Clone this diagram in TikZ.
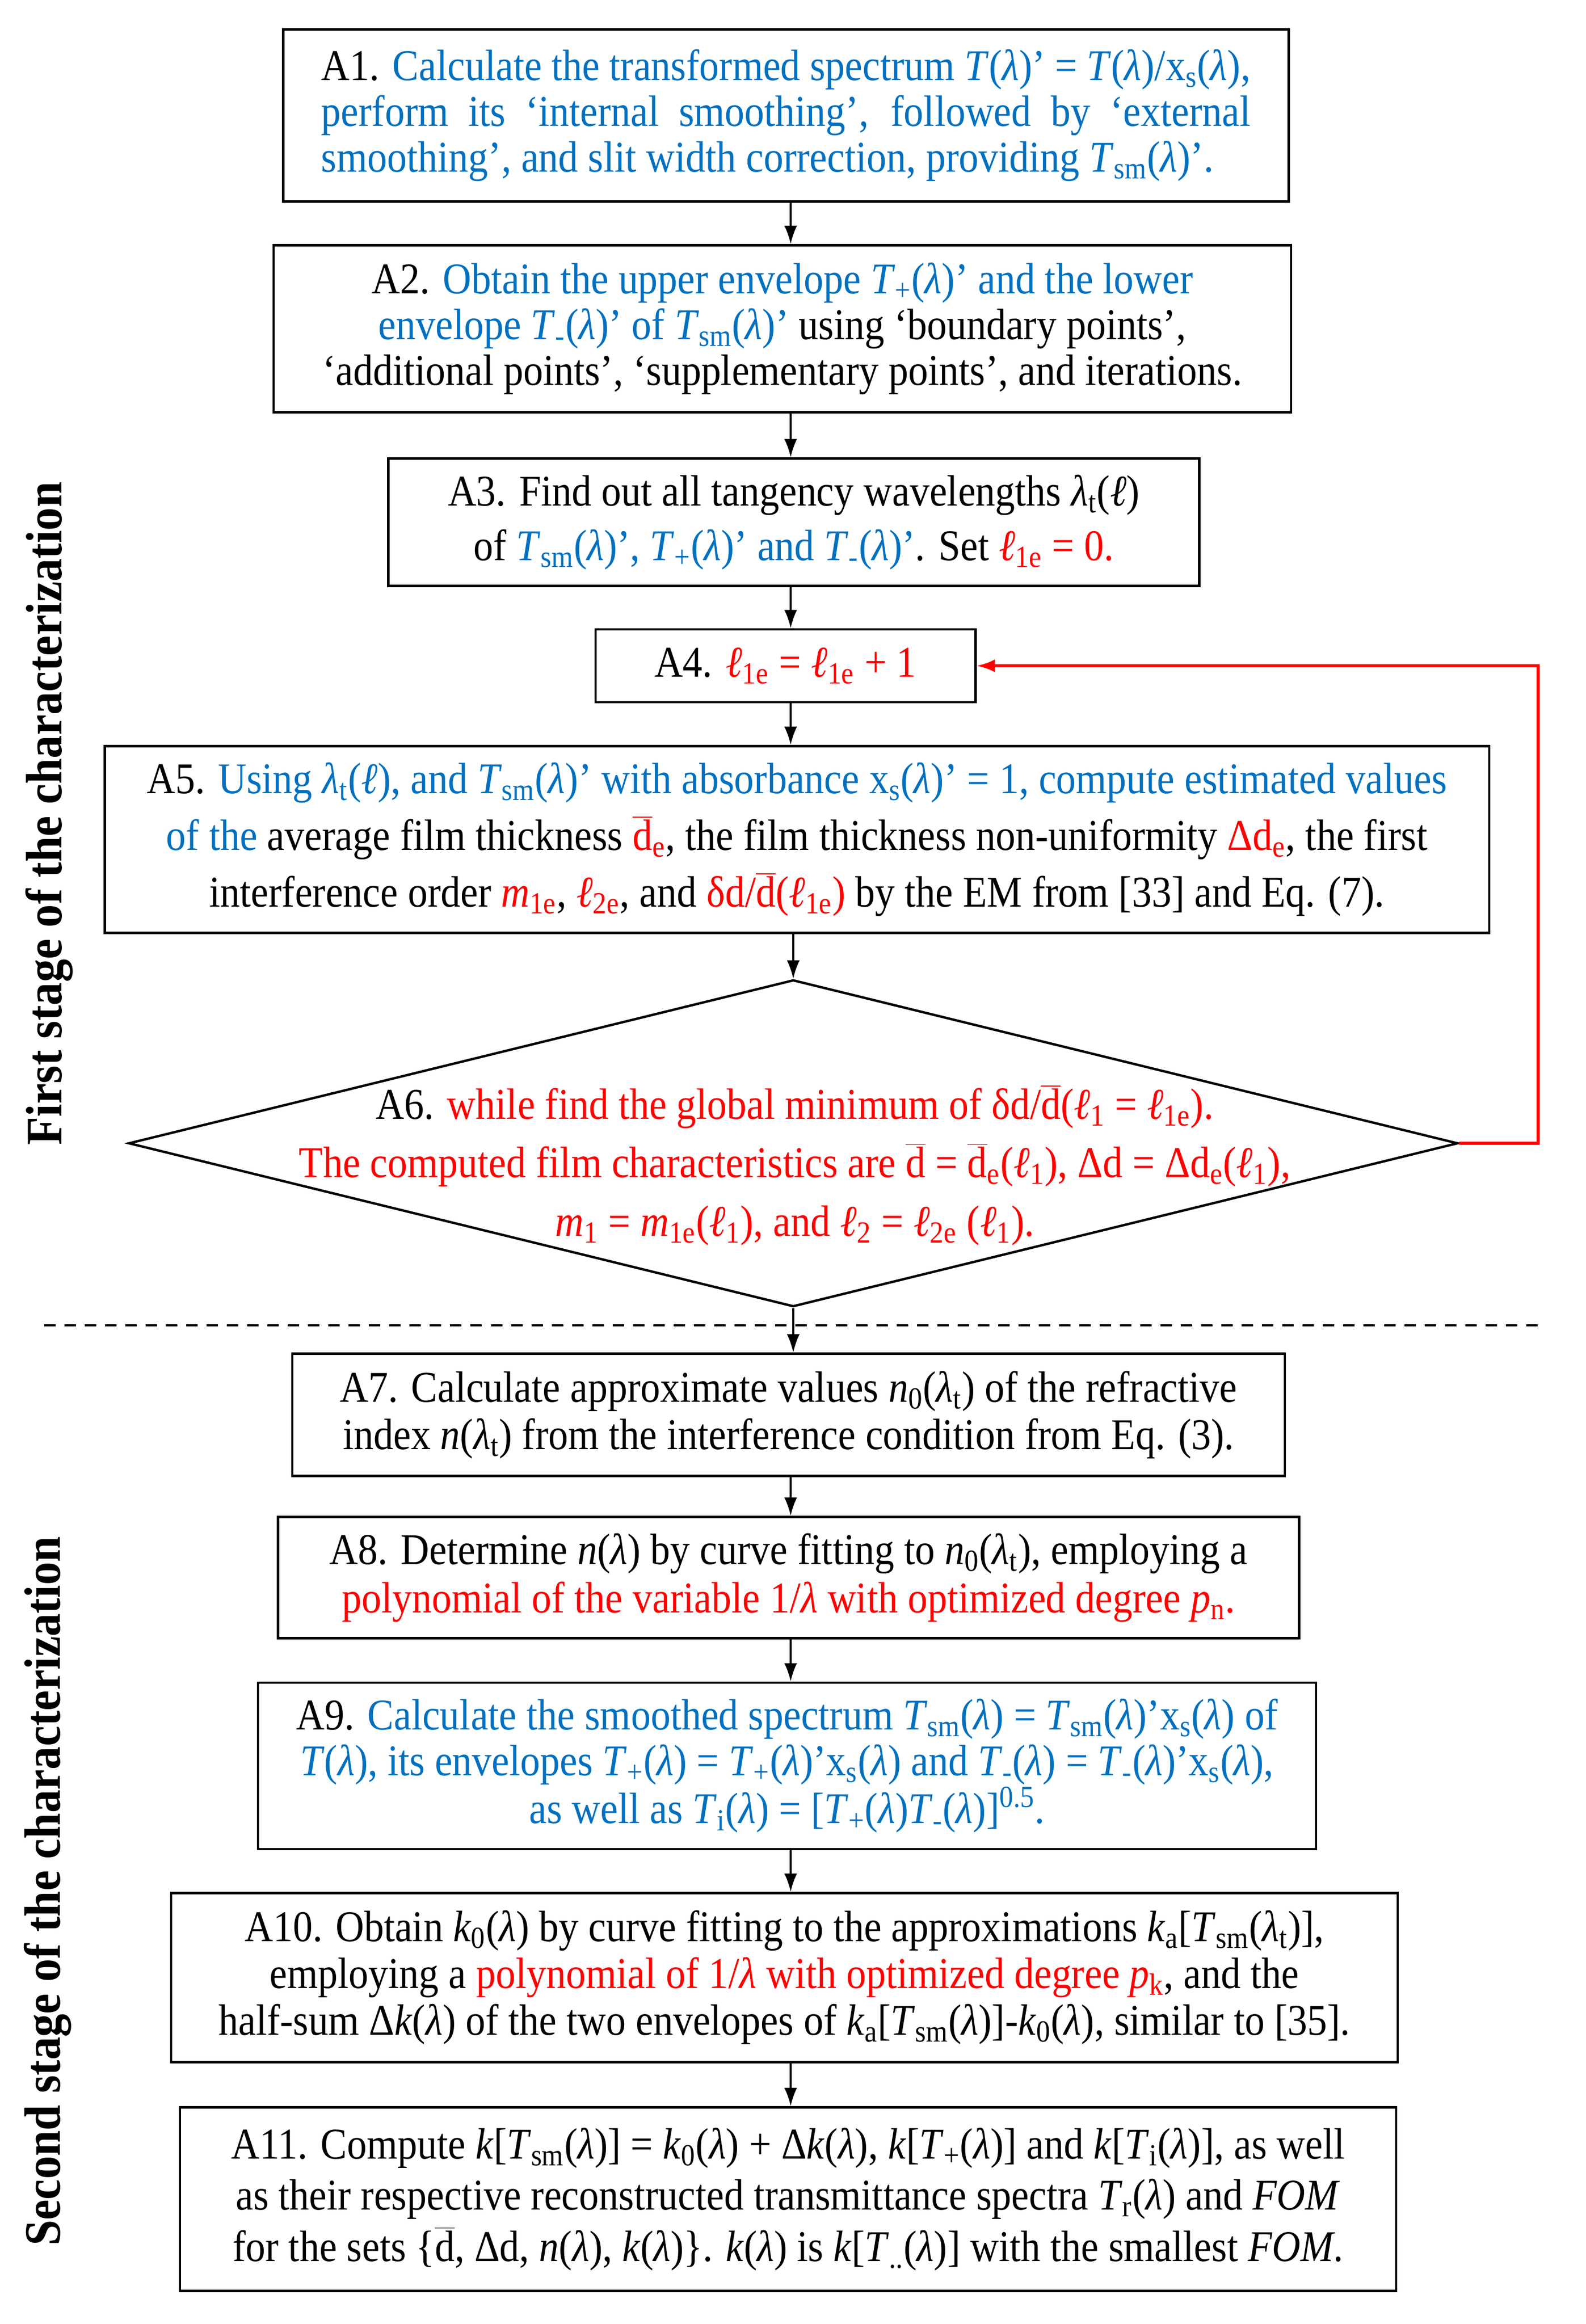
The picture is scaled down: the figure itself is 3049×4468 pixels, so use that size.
\documentclass[tikz,border=0pt]{standalone}
\usepackage{fontspec}
\setmainfont{Liberation Serif}[FakeStretch=0.9]
\usetikzlibrary{arrows.meta,shapes.geometric}
\definecolor{myblue}{RGB}{0,112,192}
\definecolor{myred}{RGB}{255,0,0}
\newcommand{\lam}{\textit{λ}}
\newcommand{\TT}{\textit{T}}
\newcommand{\Tsm}{\textit{T}\textsubscript{sm}}
\newcommand{\Tpl}{\textit{T}\textsubscript{+}}
\newcommand{\Tmi}{\textit{T}\textsubscript{-}}
\newcommand{\xs}{x\textsubscript{s}}
\newcommand{\ellx}{\textit{ℓ}}
\newcommand{\dbar}{\ensuremath{\overline{\hbox{d}}}}
\newcommand{\lamt}{\textit{λ}\textsubscript{t}}
\newcommand{\B}[1]{\textcolor{myblue}{#1}}
\newcommand{\R}[1]{\textcolor{myred}{#1}}
\begin{document}
\begin{tikzpicture}[x=0.01cm,y=-0.01cm,
  box/.style={draw, line width=1.3pt, inner sep=0pt, align=center},
  arr/.style={-{Latex[length=10pt,width=7pt]}, line width=0.9pt},
  redarr/.style={-{Latex[length=10pt,width=7pt]}, line width=1.5pt, draw=myred, color=myred},
  lbl/.style={rotate=90, font=\bfseries\fontsize{28}{30}\selectfont}]
\useasboundingbox (0,0) rectangle (3049,4468);
\fill[white] (0,0) rectangle (3049,4468);

\node[box, minimum width=19.32cm, minimum height=3.31cm, text width=17.85cm, align=justify,
  font=\fontsize{24}{25}\selectfont] (A1) at (1511,222)
 {A1. \B{Calculate the transformed spectrum \TT(\lam)' = \TT(\lam)/\xs(\lam),\linebreak perform its ‘internal smoothing’, followed by ‘external\linebreak smoothing’, and slit width correction, providing \Tsm(\lam)'.}};

\node[box, minimum width=19.55cm, minimum height=3.21cm, font=\fontsize{24}{25}\selectfont] (A2) at (1504,632)
 {A2. \B{Obtain the upper envelope \Tpl(\lam)' and the lower}\\
  \B{envelope \Tmi(\lam)' of \Tsm(\lam)'} using ‘boundary points’,\\
  ‘additional points’, ‘supplementary points’, and iterations.};

\node[box, minimum width=15.58cm, minimum height=2.45cm, font=\fontsize{24}{30}\selectfont] (A3) at (1526,1004)
 {A3. Find out all tangency wavelengths \lamt(\ellx)\\
  of \B{\Tsm(\lam)', \Tpl(\lam)' and \Tmi(\lam)'}. Set \R{\ellx\textsubscript{1e} = 0.}};

\node[box, minimum width=7.30cm, minimum height=1.40cm, font=\fontsize{24}{25}\selectfont] (A4) at (1510,1280)
 {A4. \R{\ellx\textsubscript{1e} = \ellx\textsubscript{1e} + 1}};

\node[box, minimum width=26.60cm, minimum height=3.59cm, font=\fontsize{24}{31}\selectfont] (A5) at (1532,1614)
 {A5. \B{Using \lamt(\ellx), and \Tsm(\lam)' with absorbance \xs(\lam)' = 1, compute estimated values}\\
  \B{of the} average film thickness \R{\dbar\textsubscript{e}}, the film thickness non-uniformity \R{Δd\textsubscript{e}}, the first\\
  interference order \R{\textit{m}\textsubscript{1e}}, \R{\ellx\textsubscript{2e}}, and \R{δd/\dbar(\ellx\textsubscript{1e})} by the EM from [33] and Eq. (7).};

\node[diamond, draw, line width=1.3pt, inner sep=0pt, minimum width=25.54cm, minimum height=6.28cm] (A6) at (1525,2198) {};
\node[align=center, inner sep=0pt, font=\fontsize{24}{32}\selectfont] (A6t) at (1528,2240)
 {A6. \R{while find the global minimum of δd/\dbar(\ellx\textsubscript{1} = \ellx\textsubscript{1e}).}\\
  \R{The computed film characteristics are \dbar{} = \dbar\textsubscript{e}(\ellx\textsubscript{1}), Δd = Δd\textsubscript{e}(\ellx\textsubscript{1}),}\\
  \R{\textit{m}\textsubscript{1} = \textit{m}\textsubscript{1e}(\ellx\textsubscript{1}), and \ellx\textsubscript{2} = \ellx\textsubscript{2e} (\ellx\textsubscript{1}).}};

\coordinate (dl) at (85,2548);
\coordinate (dr) at (2970,2548);
\draw[line width=1pt, dash pattern=on 0.22cm off 0.17cm] (dl) -- (dr);

\node[box, minimum width=19.07cm, minimum height=2.35cm, font=\fontsize{24}{26}\selectfont] (A7) at (1516,2720)
 {A7. Calculate approximate values \textit{n}\textsubscript{0}(\lamt) of the refractive\\
  index \textit{n}(\lamt) from the interference condition from Eq. (3).};

\node[box, minimum width=19.62cm, minimum height=2.33cm, font=\fontsize{24}{26.5}\selectfont] (A8) at (1516,3033)
 {A8. Determine \textit{n}(\lam) by curve fitting to \textit{n}\textsubscript{0}(\lamt), employing a\\
  \R{polynomial of the variable 1/\lam{} with optimized degree \textit{p}\textsubscript{n}.}};

\node[box, minimum width=20.33cm, minimum height=3.20cm, font=\fontsize{24}{25}\selectfont] (A9) at (1513,3395)
 {A9. \B{Calculate the smoothed spectrum \Tsm(\lam) = \Tsm(\lam)'\xs(\lam) of}\\
  \B{\TT(\lam), its envelopes \Tpl(\lam) = \Tpl(\lam)'\xs(\lam) and \Tmi(\lam) = \Tmi(\lam)'\xs(\lam),}\\
  \B{as well as \TT\textsubscript{i}(\lam) = [\Tpl(\lam)\Tmi(\lam)]\textsuperscript{0.5}.}};

\node[box, minimum width=23.57cm, minimum height=3.25cm, font=\fontsize{24}{25.6}\selectfont] (A10) at (1508,3802)
 {A10. Obtain \textit{k}\textsubscript{0}(\lam) by curve fitting to the approximations \textit{k}\textsubscript{a}[\Tsm(\lamt)],\\
  employing a \R{polynomial of 1/\lam{} with optimized degree \textit{p}\textsubscript{k}}, and the\\
  half-sum Δ\textit{k}(\lam) of the two envelopes of \textit{k}\textsubscript{a}[\Tsm(\lam)]-\textit{k}\textsubscript{0}(\lam), similar to [35].};

\node[box, minimum width=23.37cm, minimum height=3.53cm, font=\fontsize{24}{28}\selectfont] (A11) at (1515,4228)
 {A11. Compute \textit{k}[\Tsm(\lam)] = \textit{k}\textsubscript{0}(\lam) + Δ\textit{k}(\lam), \textit{k}[\Tpl(\lam)] and \textit{k}[\TT\textsubscript{i}(\lam)], as well\\
  as their respective reconstructed transmittance spectra \TT\textsubscript{r}(\lam) and \textit{FOM}\\
  for the sets \{\dbar, Δd, \textit{n}(\lam), \textit{k}(\lam)\}. \textit{k}(\lam) is \textit{k}[\TT\textsubscript{..}(\lam)] with the smallest \textit{FOM}.};

\node[lbl] (L1) at (95,1564) {First stage of the characterization};
\node[lbl] (L2) at (92,3636) {Second stage of the characterization};

\draw[arr] (A1.south -| 1520,0) -- (A2.north -| 1520,0);
\draw[arr] (A2.south -| 1520,0) -- (A3.north -| 1520,0);
\draw[arr] (A3.south -| 1520,0) -- (A4.north -| 1520,0);
\draw[arr] (A4.south -| 1520,0) -- (A5.north -| 1520,0);
\draw[arr] (A5.south -| A6.north) -- (A6.north);
\draw[arr] (A6.south) -- (A6.south |- A7.north);
\draw[arr] (A7.south -| 1520,0) -- (A8.north -| 1520,0);
\draw[arr] (A8.south -| 1520,0) -- (A9.north -| 1520,0);
\draw[arr] (A9.south -| 1520,0) -- (A10.north -| 1520,0);
\draw[arr] (A10.south -| 1520,0) -- (A11.north -| 1520,0);

\coordinate (loopc) at (2957,1280);
\draw[redarr] (A6.east) -| (loopc) -- (A4.east);
\end{tikzpicture}
\end{document}
